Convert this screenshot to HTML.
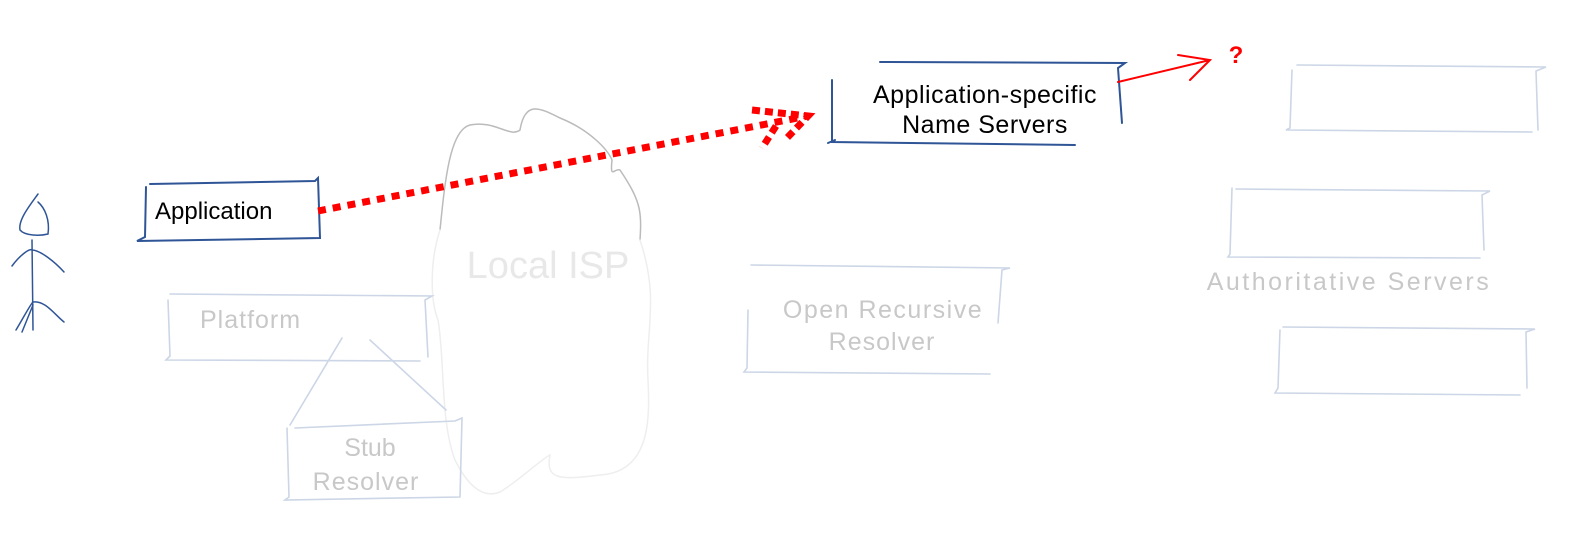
<!DOCTYPE html>
<html><head><meta charset="utf-8"><style>
html,body{margin:0;padding:0;background:#fff;width:1574px;height:534px;overflow:hidden}
svg{display:block}
text{font-family:"Liberation Sans",sans-serif}
</style></head><body>
<svg width="1574" height="534" viewBox="0 0 1574 534" xmlns="http://www.w3.org/2000/svg">
<g fill="none" stroke-linecap="round">
<!-- cloud -->
<path d="M440,230 C445,180 450,130 470,125 C495,120 510,138 520,130 C525,100 540,108 560,118 C590,130 608,150 612,160 C610,180 614,168 620,170 C640,200 642,210 640,240" stroke="#bbb" stroke-width="1.5"/>
<path d="M440,230 C430,260 430,300 438,320 C445,360 440,420 455,460 C465,480 480,500 500,492 C520,480 540,460 550,455 C545,480 560,480 600,475 C650,472 650,420 648,380 C645,330 660,300 640,240" stroke="#eee" stroke-width="1.5"/>
<!-- person -->
<g stroke="#2f5597" stroke-width="1.5">
<path d="M38,194 C30,205 18,220 20,230 C25,236 40,236 48,234 C50,220 45,208 38,202"/>
<path d="M32,240 L33,330"/>
<path d="M12,266 C20,255 30,248 32,250 C40,250 55,262 64,272"/>
<path d="M16,330 C25,315 30,305 33,302 C45,300 55,315 64,322 M22,332 L33,305"/>
</g>
<!-- Application box -->
<g stroke="#2f5597" stroke-width="2">
<path d="M150,184 L315,181 L318,178 L320,238 L137,241 L145,237 L146,187"/>
</g>
<!-- ASNS box -->
<g stroke="#2f5597" stroke-width="2">
<path d="M832,80 L832,142 L1075,145 M828,143 L835,140 M880,62 L1125,63 L1118,68 L1122,123"/>
</g>
<!-- light boxes -->
<g stroke="#ccd6e6" stroke-width="1.6">
<path d="M170,294 L432,296 L425,300 L428,357 M168,300 L170,356 L166,360 L420,361"/>
<path d="M342,338 L290,425 M370,340 L446,410"/>
<path d="M287,428 L289,497 L285,500 L460,497 M295,428 L455,421 L462,418 L460,497"/>
<path d="M751,265 L1010,268 L1002,270 L998,323 M748,310 L747,368 L744,372 L990,374"/>
<path d="M1236,189 L1490,191 L1482,195 L1484,250 M1232,188 L1230,254 L1228,257 L1480,258"/>
<path d="M1297,65 L1546,67 L1536,71 L1538,130 M1292,70 L1290,128 L1286,130 L1532,132"/>
<path d="M1283,327 L1535,329 L1526,332 L1527,388 M1280,330 L1278,388 L1275,393 L1520,395"/>
</g>
<!-- red dotted arrow -->
<g stroke-linecap="butt">
<path d="M318,211 L808,116" stroke="#f00" stroke-width="7" stroke-dasharray="8,7"/>
<path d="M752,110 L808,116 L785,140 M776,126 L762,148" stroke="#f00" stroke-width="7" stroke-dasharray="8,5"/>
</g>
<!-- red arrow -->
<path d="M1118,82 L1210,60 M1178,55 L1210,60 L1190,80" stroke="#f00" stroke-width="2"/>
</g>
<g font-family="'Liberation Sans',sans-serif">
<text x="155" y="219" font-size="24" fill="#000">Application</text>
<text x="985" y="103" font-size="25" fill="#000" text-anchor="middle" letter-spacing="0.5">Application-specific</text>
<text x="985" y="133" font-size="25" fill="#000" text-anchor="middle" letter-spacing="0.5">Name Servers</text>
<text x="1236" y="63" font-size="24" font-weight="bold" fill="#f00" text-anchor="middle">?</text>
<text x="548" y="278" font-size="38" fill="#e8e8e8" text-anchor="middle">Local ISP</text>
<text x="200" y="328" font-size="25" fill="#c8c8c8" letter-spacing="1">Platform</text>
<text x="370" y="456" font-size="25" fill="#c8c8c8" text-anchor="middle">Stub</text>
<text x="366" y="490" font-size="25" fill="#c8c8c8" text-anchor="middle" letter-spacing="1">Resolver</text>
<text x="883" y="318" font-size="25" fill="#c8c8c8" text-anchor="middle" letter-spacing="1.5">Open Recursive</text>
<text x="882" y="350" font-size="25" fill="#c8c8c8" text-anchor="middle" letter-spacing="1">Resolver</text>
<text x="1349" y="290" font-size="25" fill="#c8c8c8" text-anchor="middle" letter-spacing="2.5">Authoritative Servers</text>
</g>
</svg>
</body></html>
